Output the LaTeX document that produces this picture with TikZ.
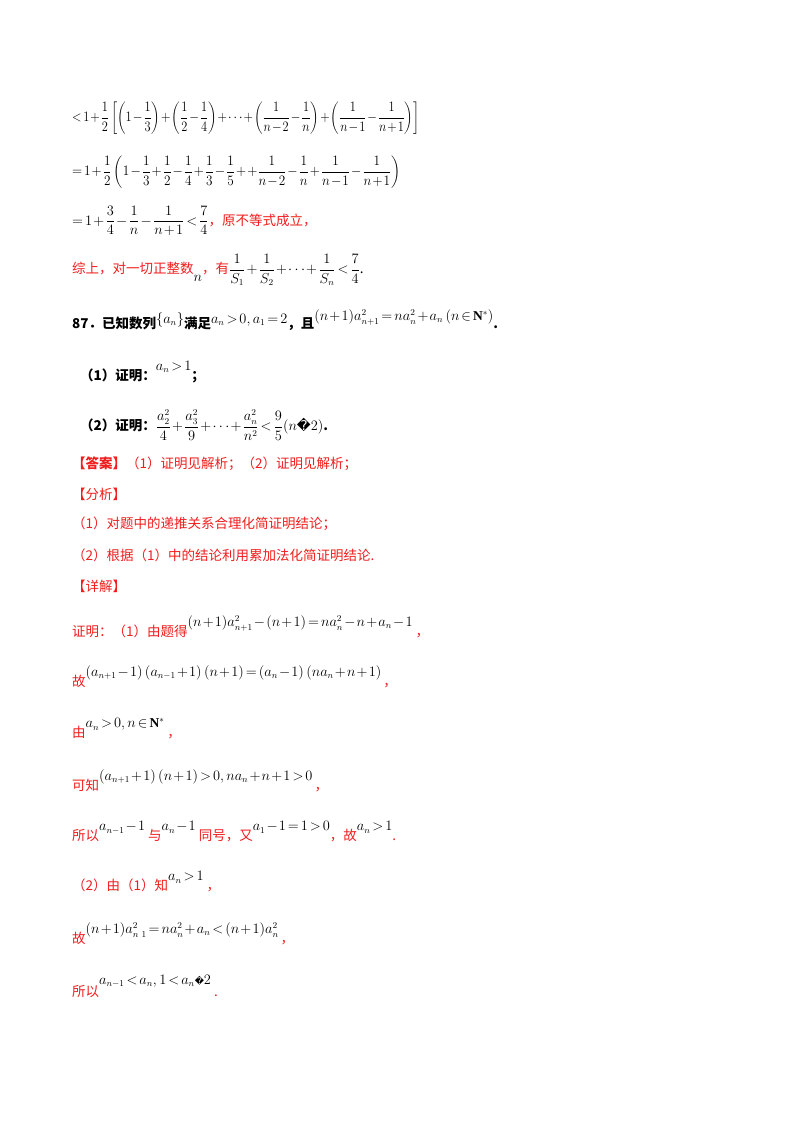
\documentclass[tikz,border=0pt]{standalone}
\usepackage{amsmath,amssymb}
\usepackage{fontspec}
\setmainfont{Liberation Serif}
\newfontfamily\cjk{Noto Sans CJK SC}
\newfontfamily\dv{DejaVu Sans}
\definecolor{rd}{RGB}{240,30,30}
\medmuskip=1.5mu plus 1mu
\thickmuskip=2.5mu plus 1mu
\begin{document}
\begin{tikzpicture}[x=1pt,y=-1pt,
  t/.style={anchor=west,inner sep=0pt,font=\fontsize{13.5}{16}\selectfont},
  r/.style={t,text=rd}]
\useasboundingbox[fill=white] (0,0) rectangle (800,1132);
\node[t,xscale=0.86,transform shape] (l1) at (72,118) {$\displaystyle<1+\frac12\left[\left(1-\frac13\right)+\left(\frac12-\frac14\right)+\dots+\left(\frac1{n-2}-\frac1n\right)+\left(\frac1{n-1}-\frac1{n+1}\right)\right]$};
\node[t,xscale=0.92,transform shape] (l2) at (72,172) {$\displaystyle=1+\frac12\left(1-\frac13+\frac12-\frac14+\frac13-\frac15++\frac1{n-2}-\frac1n+\frac1{n-1}-\frac1{n+1}\right)$};
\node[t] (l3) at (72,221) {$\displaystyle=1+\frac34-\frac1n-\frac1{n+1}<\frac74$\textcolor{rd}{\cjk ，原不等式成立，}};
\node[r] (l4) at (72,270) {\cjk 综上，对一切正整数\raisebox{-8pt}{\color{black}$n$}，有\color{black}$\displaystyle\frac1{S_1}+\frac1{S_2}+\dots+\frac1{S_n}<\frac74$.};
\node[t] (q) at (72,320) {\cjk\bfseries 87．已知数列\raisebox{5pt}{$\{a_n\}$}满足\raisebox{5pt}{$a_n>0,a_1=2$}，且\raisebox{8pt}{$(n+1)a_{n+1}^2=na_n^2+a_n\left(n\in\mathbf{N}^*\right)$}.};
\node[t] (q1) at (80,372) {\cjk\bfseries （1）证明：\raisebox{10pt}{$a_n>1$}；};
\node[t] (q2) at (80,425) {\cjk\bfseries （2）证明：$\displaystyle\frac{a_2^2}{4}+\frac{a_3^2}{9}+\dots+\frac{a_n^2}{n^2}<\frac95(n${\dv\mdseries �}$2)$.};
\node[r] (ans) at (72,464) {\cjk\bfseries 【答案】\mdseries（1）证明见解析；（2）证明见解析；};
\node[r] (fx) at (72,494) {\cjk 【分析】};
\node[r] (f1) at (72,524) {\cjk （1）对题中的递推关系合理化简证明结论；};
\node[r] (f2) at (72,555) {\cjk （2）根据（1）中的结论利用累加法化简证明结论.};
\node[r] (xj) at (72,586) {\cjk 【详解】};
\node[r] (d1) at (72,627) {\cjk 证明：（1）由题得\raisebox{10pt}{\color{black}$(n+1)a_{n+1}^2-(n+1)=na_n^2-n+a_n-1$}\hspace{3pt}，};
\node[r] (d2) at (72,677) {\cjk 故\raisebox{10pt}{\color{black}$\left(a_{n+1}-1\right)\left(a_{n-1}+1\right)(n+1)=\left(a_n-1\right)\left(na_n+n+1\right)$}\hspace{2pt}，};
\node[r] (d3) at (72,729) {\cjk 由\raisebox{10pt}{\color{black}$a_n>0,n\in\mathbf{N}^*$}\hspace{3pt}，};
\node[r] (d4) at (72,781) {\cjk 可知\raisebox{10pt}{\color{black}$\left(a_{n+1}+1\right)(n+1)>0,na_n+n+1>0$}\hspace{2pt}，};
\node[r] (d5) at (72,832) {\cjk 所以\raisebox{10pt}{\color{black}$a_{n-1}-1$}\hspace{3pt}与\raisebox{10pt}{\color{black}$a_n-1$}\hspace{3pt}同号，又\raisebox{10pt}{\color{black}$a_1-1=1>0$}，故\raisebox{10pt}{\color{black}$a_n>1$}.};
\node[r] (d6) at (72,882) {\cjk （2）由（1）知\raisebox{10pt}{\color{black}$a_n>1$}\hspace{3pt}，};
\node[r] (d7) at (72,934) {\cjk 故\raisebox{10pt}{\color{black}$(n+1)a_{n\ 1}^2=na_n^2+a_n<(n+1)a_n^2$}\hspace{2pt}，};
\node[r] (d8) at (72,986) {\cjk 所以\raisebox{12pt}{\color{black}$a_{n-1}<a_n,1<a_n${\dv\small �}$2$}\hspace{3pt}.};
\end{tikzpicture}
\end{document}
